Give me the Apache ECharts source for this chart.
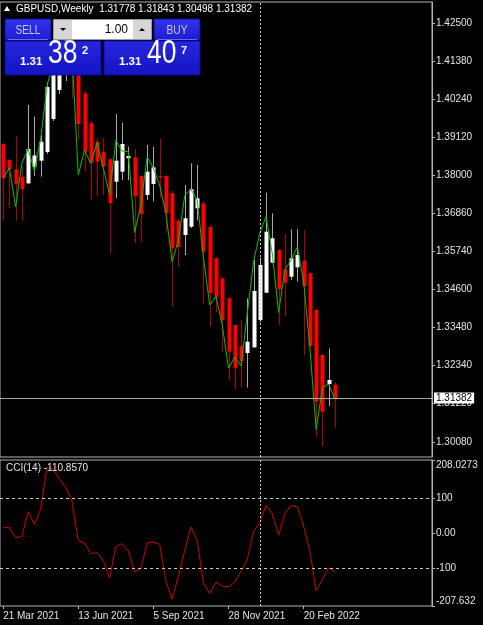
<!DOCTYPE html>
<html>
<head>
<meta charset="utf-8">
<title>GBPUSD,Weekly</title>
<script src="https://cdn.jsdelivr.net/npm/echarts@6.0.0/dist/echarts.min.js"></script>
<style>
  html, body { margin: 0; padding: 0; background: #000; }
  #main { width: 483px; height: 625px; }
</style>
</head>
<body>
<div id="main"></div>
<script>
// weekly bars (MT4 dates the week by its Sunday)
const dates = ['21 Mar 2021','28 Mar 2021','4 Apr 2021','11 Apr 2021','18 Apr 2021','25 Apr 2021','2 May 2021','9 May 2021','16 May 2021','23 May 2021',
  '30 May 2021','6 Jun 2021','13 Jun 2021','20 Jun 2021','27 Jun 2021','4 Jul 2021','11 Jul 2021','18 Jul 2021','25 Jul 2021','1 Aug 2021',
  '8 Aug 2021','15 Aug 2021','22 Aug 2021','29 Aug 2021','5 Sep 2021','12 Sep 2021','19 Sep 2021','26 Sep 2021','3 Oct 2021','10 Oct 2021',
  '17 Oct 2021','24 Oct 2021','31 Oct 2021','7 Nov 2021','14 Nov 2021','21 Nov 2021','28 Nov 2021','5 Dec 2021','12 Dec 2021','19 Dec 2021',
  '26 Dec 2021','2 Jan 2022','9 Jan 2022','16 Jan 2022','23 Jan 2022','30 Jan 2022','6 Feb 2022','13 Feb 2022','20 Feb 2022','27 Feb 2022',
  '6 Mar 2022','13 Mar 2022','20 Mar 2022','27 Mar 2022'];
const emptySlots = 15; // chart shift on the right

const opens  = [1.38913,1.38439,1.38163,1.37944,1.37748,1.38240,1.38418,1.38676,1.39654,1.40514,
  1.41700,1.42100,1.41200,1.40416,1.39527,1.38981,1.38685,1.38460,1.37796,1.38092,
  1.38489,1.38519,1.37965,1.37402,1.37728,1.37965,1.37965,1.37452,1.36640,1.36216,
  1.36462,1.37007,1.37156,1.36453,1.35525,1.34932,1.34340,1.33548,1.32926,1.32718,
  1.32887,1.33696,1.34506,1.35395,1.35771,1.35199,1.34980,1.35258,1.35454,1.35080,
  1.33993,1.32659,1.31799,1.31778];
const highs  = [1.38943,1.38469,1.39150,1.38240,1.40069,1.39723,1.39180,1.40751,1.41600,1.42250,
  1.42490,1.42350,1.41300,1.40484,1.39595,1.39062,1.39091,1.38498,1.39803,1.39545,
  1.38833,1.38756,1.37994,1.38884,1.38833,1.39082,1.37994,1.37520,1.36690,1.37698,
  1.38341,1.38291,1.37224,1.36512,1.35564,1.34971,1.34378,1.33560,1.33696,1.34340,
  1.35475,1.35534,1.37470,1.36859,1.35801,1.36246,1.36385,1.36385,1.36364,1.35120,
  1.34022,1.32689,1.32855,1.31843];
const lows   = [1.36640,1.37007,1.36640,1.36640,1.37728,1.37965,1.37944,1.38617,1.39595,1.40400,
  1.40781,1.40250,1.39032,1.38092,1.37268,1.37372,1.37402,1.35682,1.37304,1.37846,
  1.37846,1.35970,1.36017,1.37253,1.37203,1.37313,1.36275,1.34090,1.35276,1.35623,
  1.36423,1.36660,1.34191,1.33498,1.33919,1.32748,1.31918,1.31651,1.31696,1.31695,
  1.32866,1.33637,1.34497,1.35386,1.33548,1.33817,1.34882,1.34832,1.32659,1.32896,
  1.30237,1.29941,1.31147,1.30498];
const closes = [1.37900,1.38163,1.37728,1.37579,1.38765,1.38572,1.38981,1.40603,1.41350,1.41800,
  1.42150,1.41000,1.39506,1.38685,1.38365,1.38389,1.38240,1.37156,1.38418,1.38913,
  1.38558,1.37372,1.36838,1.38092,1.38223,1.37941,1.36859,1.35822,1.35860,1.36711,
  1.37571,1.37304,1.35721,1.34497,1.34387,1.33696,1.32757,1.32279,1.32475,1.33053,
  1.34556,1.35327,1.36314,1.36118,1.34606,1.34802,1.35525,1.35623,1.34704,1.32926,
  1.31275,1.30978,1.31918,1.31382];

// green moving average drawn on the price pane
const maValues = [1.37897,1.38202,1.37046,1.38350,1.38765,1.38113,1.39076,1.40603,1.41400,1.41850,
  1.42140,1.41650,1.37994,1.38721,1.38335,1.38952,1.38202,1.37431,1.39011,1.38700,
  1.38685,1.36290,1.37105,1.38528,1.38202,1.37698,1.36859,1.35416,1.36068,1.37372,
  1.37571,1.37253,1.35534,1.34141,1.34393,1.33550,1.32265,1.32600,1.32333,1.33895,
  1.35424,1.36275,1.36758,1.35653,1.33919,1.35178,1.35475,1.35869,1.34823,1.32866,
  1.30451,1.31696,1.31799,1.31346];

// CCI(14)
const cciValues = [17,15,-13,-10,61,25,68,187,182,153,
  130,91,-21,-28,-58,-56,-78,-128,-39,-30,
  -51,-111,-101,-28,-25,-32,-137,-188,-123,-51,
  17,-21,-142,-172,-139,-151,-154,-139,-109,-75,
  4,30,79,55,-6,55,79,74,20,-51,
  -164,-132,-99,-110.857];
const cciLevels = [100, -100];

// axis scales and tick labels
const priceMin = 1.29635, priceMax = 1.43122;
const priceTicks = [1.30080,1.31220,1.32340,1.33480,1.34600,1.35740,1.36860,1.38000,1.39120,1.40240,1.41380,1.42500];
const cciMin = -207.632, cciMax = 208.0273;
const cciTicks = [-207.632, -100, 0, 100, 208.0273];
const cciTickLabels = ['-207.632', '-100', '0.00', '100', '208.0273'];
const separatorDate = '2 Jan 2022';
const labelEvery = 12;

// quote panel
const sellPrice = ['1.31', '38', '2'];
const buyPrice = ['1.31', '40', '7'];
const lotSize = '1.00';

const fg = '#e4e4e4';
const frame = '#b4b4b4';
const font = '"Liberation Sans", Arial, sans-serif';
const TOP = 100; // panel sits above the candles

const categories = dates.slice();
for (let k = 1; k <= emptySlots; k++) categories.push('+' + k);

const candleData = dates.map((d, i) => [i, opens[i], closes[i], lows[i], highs[i]]);
const last = dates.length - 1;
const headerText = 'GBPUSD,Weekly  ' + opens[last].toFixed(5) + ' ' + highs[last].toFixed(5) + ' ' +
  lows[last].toFixed(5) + ' ' + closes[last].toFixed(5);

function showDate(index) {
  return index < dates.length && index % labelEvery === 0;
}

function renderCandle(params, api) {
  const i = api.value(0);
  const o = api.value(1), c = api.value(2), l = api.value(3), h = api.value(4);
  const pH = api.coord([i, h]);
  const pL = api.coord([i, l]);
  const pO = api.coord([i, o]);
  const pC = api.coord([i, c]);
  const up = c >= o;
  const px = Math.round(pH[0]);
  const y1 = Math.min(pO[1], pC[1]);
  const y2 = Math.max(pO[1], pC[1]);
  return {
    type: 'group',
    children: [
      { type: 'line', shape: { x1: px + 0.5, y1: pH[1], x2: px + 0.5, y2: pL[1] },
        style: { stroke: up ? '#a8a8a8' : '#b00000', lineWidth: 1 } },
      { type: 'rect', shape: { x: px - 1.5, y: y1, width: 4, height: Math.max(y2 - y1, 1.2) },
        style: { fill: up ? '#ffffff' : '#ff0000' } }
    ]
  };
}

function btnFill() {
  return new echarts.graphic.LinearGradient(0, 0, 0, 1, [
    { offset: 0, color: '#3434ec' }, { offset: 1, color: '#1c1cd2' }
  ]);
}
function boxFill() {
  return new echarts.graphic.LinearGradient(0, 0, 0, 1, [
    { offset: 0, color: '#2626de' }, { offset: 1, color: '#1414c4' }
  ]);
}

function priceBox(x, parts) {
  return [
    { type: 'rect', z: TOP, shape: { x: x, y: 41, width: 96, height: 34 }, style: { fill: boxFill(), stroke: '#0c0c9a', lineWidth: 1 } },
    { type: 'text', z: TOP + 1, x: x + 15, y: 68, style: { text: parts[0], fill: '#fff', font: 'bold 11.5px ' + font, verticalAlign: 'bottom' } },
    { type: 'text', z: TOP + 1, x: x + 43, y: 70.5, scaleX: 0.8, style: { text: parts[1], fill: '#fff', font: '33px ' + font, verticalAlign: 'bottom' } },
    { type: 'text', z: TOP + 1, x: x + 77, y: 45, style: { text: parts[2], fill: '#fff', font: 'bold 11px ' + font, verticalAlign: 'top' } }
  ];
}

const panel = [].concat(
  [
    { type: 'rect', z: TOP, shape: { x: 5, y: 19, width: 46, height: 21 }, style: { fill: btnFill(), stroke: '#0c0c9a' } },
    { type: 'line', z: TOP + 1, shape: { x1: 8, y1: 39.5, x2: 48, y2: 39.5 }, style: { stroke: '#6a6af0', lineWidth: 1 } },
    { type: 'text', z: TOP + 1, x: 28, y: 30, scaleX: 0.78, style: { text: 'SELL', fill: '#c8c8f8', font: '13px ' + font, align: 'center', verticalAlign: 'middle' } },
    { type: 'rect', z: TOP, shape: { x: 53.5, y: 19.5, width: 98, height: 20 }, style: { fill: '#ffffff', stroke: '#9a9a9a' } },
    { type: 'rect', z: TOP + 1, shape: { x: 54, y: 20, width: 18, height: 19 }, style: { fill: '#d6d6d6' } },
    { type: 'polygon', z: TOP + 2, shape: { points: [[60, 28], [66, 28], [63, 31]] }, style: { fill: '#000' } },
    { type: 'rect', z: TOP + 1, shape: { x: 133, y: 20, width: 18, height: 19 }, style: { fill: '#d6d6d6' } },
    { type: 'polygon', z: TOP + 2, shape: { points: [[139, 31], [145, 31], [142, 28]] }, style: { fill: '#000' } },
    { type: 'text', z: TOP + 1, x: 128, y: 30, style: { text: lotSize, fill: '#000', font: '12px ' + font, align: 'right', verticalAlign: 'middle' } },
    { type: 'rect', z: TOP, shape: { x: 154, y: 19, width: 46, height: 21 }, style: { fill: btnFill(), stroke: '#0c0c9a' } },
    { type: 'line', z: TOP + 1, shape: { x1: 157, y1: 39.5, x2: 197, y2: 39.5 }, style: { stroke: '#6a6af0', lineWidth: 1 } },
    { type: 'text', z: TOP + 1, x: 177, y: 30, scaleX: 0.78, style: { text: 'BUY', fill: '#c8c8f8', font: '13px ' + font, align: 'center', verticalAlign: 'middle' } }
  ],
  priceBox(5, sellPrice),
  priceBox(104, buyPrice)
);

const chart = echarts.init(document.getElementById('main'), null, { renderer: 'canvas' });

const option = {
  backgroundColor: '#000000',
  animation: false,
  textStyle: { fontFamily: font },
  grid: [
    { left: 0, right: 51, top: 2, bottom: 168, show: true, borderColor: frame, borderWidth: 1, outerBoundsMode: 'none' },
    { left: 0, right: 51, top: 460, bottom: 19, show: true, borderColor: frame, borderWidth: 1, outerBoundsMode: 'none' }
  ],
  xAxis: [
    { type: 'category', gridIndex: 0, data: categories, boundaryGap: true,
      axisLine: { show: false, onZero: false }, axisTick: { show: false }, axisLabel: { show: false }, splitLine: { show: false } },
    { type: 'category', gridIndex: 1, data: categories, boundaryGap: true, position: 'bottom',
      axisLine: { show: false, onZero: false },
      axisTick: { show: true, alignWithLabel: true, interval: showDate, length: 3, lineStyle: { color: frame } },
      axisLabel: { interval: showDate, align: 'left', margin: 5, color: fg, fontSize: 10, fontFamily: font },
      splitLine: { show: false } }
  ],
  yAxis: [
    { type: 'value', gridIndex: 0, position: 'right', min: priceMin, max: priceMax, scale: true,
      axisLine: { show: true, lineStyle: { color: frame } },
      axisTick: { show: true, length: 3, customValues: priceTicks, lineStyle: { color: frame } },
      axisLabel: { customValues: priceTicks, formatter: v => v.toFixed(5), color: fg, fontSize: 10, margin: 4, fontFamily: font },
      splitLine: { show: false } },
    { type: 'value', gridIndex: 1, position: 'right', min: cciMin, max: cciMax,
      axisLine: { show: true, lineStyle: { color: frame } },
      axisTick: { show: true, length: 3, customValues: cciTicks, lineStyle: { color: frame } },
      axisLabel: { customValues: cciTicks, color: fg, fontSize: 10, margin: 4, fontFamily: font,
        verticalAlignMinLabel: 'bottom', verticalAlignMaxLabel: 'top',
        formatter: v => {
          let best = 0;
          cciTicks.forEach((t, k) => { if (Math.abs(t - v) < Math.abs(cciTicks[best] - v)) best = k; });
          return cciTickLabels[best];
        } },
      splitLine: { show: false } }
  ],
  series: [
    {
      name: 'GBPUSD', type: 'custom', xAxisIndex: 0, yAxisIndex: 0,
      renderItem: renderCandle, data: candleData, clip: true, z: 2,
      encode: { x: 0, y: [1, 2, 3, 4] }
    },
    {
      name: 'MA', type: 'line', xAxisIndex: 0, yAxisIndex: 0, data: maValues,
      symbol: 'none', z: 3, lineStyle: { color: '#00c400', width: 1 },
      markLine: {
        silent: true, symbol: ['none', 'none'], animation: false, precision: 5,
        data: [
          { yAxis: closes[last], lineStyle: { color: '#a8a8a8', type: 'solid', width: 1 },
            label: { show: true, position: 'end', distance: 2, formatter: closes[last].toFixed(5),
              backgroundColor: '#ffffff', color: '#000000', fontSize: 10, fontFamily: font, padding: [1, 2, 0, 2] } },
          { xAxis: separatorDate, lineStyle: { color: '#d0d0d0', type: [2, 2], width: 1 }, label: { show: false } }
        ]
      }
    },
    {
      name: 'CCI(14)', type: 'line', xAxisIndex: 1, yAxisIndex: 1, data: cciValues,
      symbol: 'none', lineStyle: { color: '#cc0000', width: 1 },
      markLine: {
        silent: true, symbol: ['none', 'none'], animation: false, label: { show: false },
        data: cciLevels.map(v => ({ yAxis: v, lineStyle: { color: '#c8c8c8', type: [3, 3], width: 1 } }))
          .concat([{ xAxis: separatorDate, lineStyle: { color: '#d0d0d0', type: [2, 2], width: 1 } }])
      }
    }
  ],
  graphic: [
    { type: 'polygon', z: TOP, shape: { points: [[4, 11], [10, 11], [7, 6]] }, style: { fill: '#ffffff' } },
    { type: 'text', z: TOP, x: 16, y: 9, style: { text: headerText, fill: '#ffffff', font: '10px ' + font, verticalAlign: 'middle' } },
    { type: 'text', z: TOP, x: 6, y: 468, style: { text: 'CCI(14) ' + cciValues[last].toFixed(4), fill: fg, font: '10px ' + font, verticalAlign: 'middle' } },
    { type: 'group', z: TOP, children: panel }
  ]
};

chart.setOption(option);
window.addEventListener('resize', chart.resize);
</script>
</body>
</html>
